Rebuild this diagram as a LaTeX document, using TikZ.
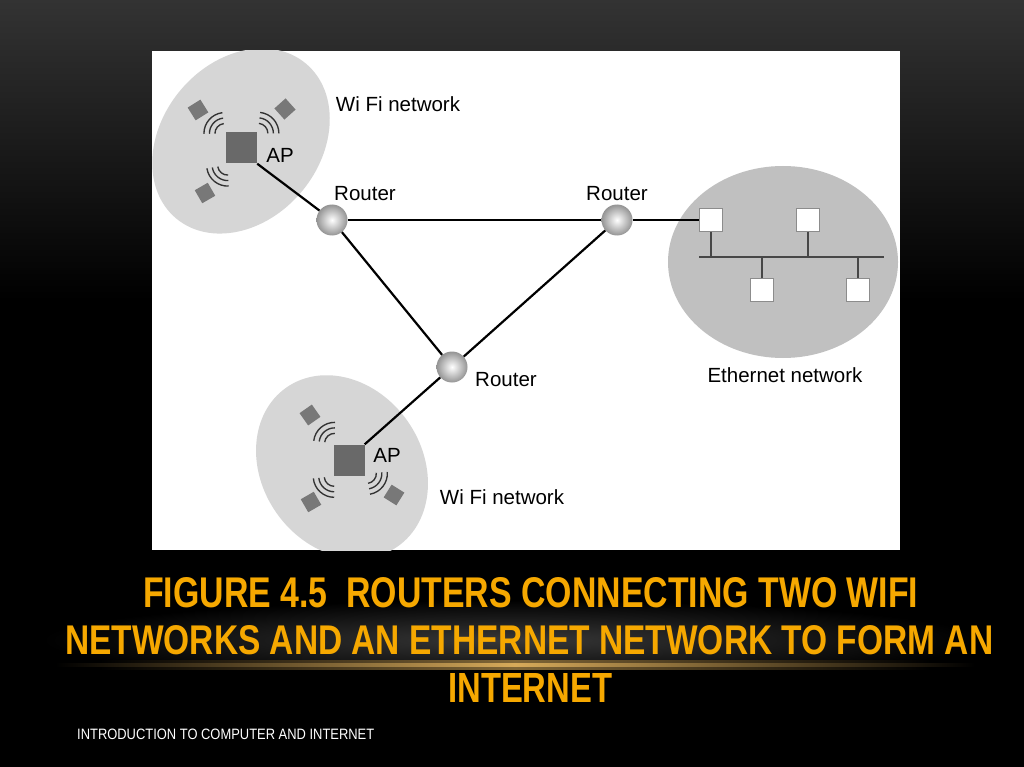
\documentclass[tikz,border=0pt]{standalone}
\usepackage{fontspec}
\setmainfont{Liberation Sans}
\usetikzlibrary{calc,shapes.geometric}
\definecolor{titleorange}{RGB}{246,168,0}
\definecolor{wifigray}{RGB}{214,214,214}
\definecolor{ethgray}{RGB}{192,192,192}
\definecolor{apgray}{RGB}{105,105,105}
\definecolor{devgray}{RGB}{120,120,120}
\definecolor{glowgold}{RGB}{215,170,90}
\newcommand\mywaves[2]{%
  \draw[wave] let \p1=($(#2)-(#1)$), \n1={atan2(\y1,\x1)}, \p2=($(#1)!22pt!(#2)$) in
    ($(\p2)+(\n1-42:10pt)$) arc[start angle=\n1-42,end angle=\n1+42,radius=10pt]
    ($(\p2)+(\n1-42:15.5pt)$) arc[start angle=\n1-42,end angle=\n1+42,radius=15.5pt]
    ($(\p2)+(\n1-42:21pt)$) arc[start angle=\n1-42,end angle=\n1+42,radius=21pt];}
\begin{document}
\begin{tikzpicture}[x=1pt,y=1pt,
  lbl/.style={inner sep=0pt,font=\fontsize{20.5}{22}\selectfont},
  apbox/.style={rectangle,fill=apgray,minimum size=31pt,inner sep=0pt},
  device/.style={rectangle,fill=devgray,minimum size=15pt,inner sep=0pt},
  router/.style={circle,minimum size=31pt,inner sep=0pt,inner color=white,outer color=black!42},
  ethbox/.style={rectangle,fill=white,draw=black!45,line width=0.6pt,minimum size=23pt,inner sep=0pt},
  link/.style={line width=2.2pt,black},
  bus/.style={line width=2.8pt,black!72},
  wave/.style={line width=1.35pt,black!80},
  titletext/.style={inner sep=0pt,text=titleorange,font=\bfseries},
  foottext/.style={inner sep=0pt,text=white}]
\useasboundingbox (0,0) rectangle (1024,-767);
% background
\fill[black] (0,0) rectangle (1024,-767);
\shade[top color=black!80, bottom color=black] (0,0) rectangle (1024,-300);
\shade[inner color=black!78, outer color=black] (512,-640) ellipse [x radius=470pt, y radius=40pt];
\fill[black] (0,-664) rectangle (1024,-767);
\shade[left color=black, right color=black, middle color=glowgold!60!black] (100,-660.5) rectangle (930,-669.5);
\shade[left color=black, right color=black, middle color=glowgold] (55,-663.5) rectangle (975,-666.5);
% white panel
\fill[white] (152,-51) rectangle (900,-550);
\begin{scope}
\clip (152,-51) rectangle (900,-550);
\fill[wifigray, rotate around={50:(241,-141)}] (241,-141) ellipse [x radius=101pt, y radius=79pt];
\fill[wifigray, rotate around={-55:(342,-467)}] (342,-467) ellipse [x radius=97pt, y radius=80pt];
\fill[ethgray] (783,-262) ellipse [x radius=115pt, y radius=96pt];
\end{scope}
% top wifi
\node[apbox] (ap1) at (241.5,-148) {};
\node[device,rotate=32] (d1) at (198,-110) {};
\node[device,rotate=42] (d2) at (285,-109) {};
\node[device,rotate=30] (d3) at (205,-193) {};
\mywaves{ap1}{d1}
\mywaves{ap1}{d2}
\mywaves{ap1}{d3}
\node[lbl] (ap1l) at (280,-155) {AP};
\node[lbl] (wifi1l) at (398,-104) {Wi Fi network};
% bottom wifi
\node[apbox] (ap2) at (349,-460) {};
\node[device,rotate=35] (d4) at (310,-415) {};
\node[device,rotate=30] (d5) at (311,-502) {};
\node[device,rotate=58] (d6) at (394,-495) {};
\mywaves{ap2}{d4}
\mywaves{ap2}{d5}
\mywaves{ap2}{d6}
\node[lbl] (ap2l) at (387,-455) {AP};
\node[lbl] (wifi2l) at (502,-497) {Wi Fi network};
% routers
\node[router] (r1) at (332,-220) {};
\node[router] (r2) at (617,-220) {};
\node[router] (r3) at (452,-367) {};
\node[lbl] (r1l) at (365,-194) {Router};
\node[lbl] (r2l) at (617,-194) {Router};
\node[lbl] (r3l) at (506,-380) {Router};
% ethernet
\node[ethbox] (e1) at (711,-220) {};
\node[ethbox] (e2) at (808,-220) {};
\node[ethbox] (e3) at (762,-290) {};
\node[ethbox] (e4) at (858,-290) {};
\coordinate (busL) at (699,-257);
\coordinate (busR) at (884,-257);
\draw[bus] (busL) -- (busR);
\draw[bus] (e1) -- (e1 |- busL);
\draw[bus] (e2) -- (e2 |- busL);
\draw[bus] (e3) -- (e3 |- busL);
\draw[bus] (e4) -- (e4 |- busL);
\node[lbl] (ethl) at (785,-375) {Ethernet network};
% links
\draw[link] (ap1.south east) -- (r1);
\draw[link] (r1) -- (r2);
\draw[link] (r1) -- (r3);
\draw[link] (r2) -- (r3);
\draw[link] (r2) -- (e1);
\draw[link] (ap2.north east) -- (r3);
% title
\node[titletext,anchor=north west] (t1) at (143,-577) {\resizebox{775pt}{30pt}{FIGURE 4.5\ \ ROUTERS CONNECTING TWO WIFI}};
\node[titletext,anchor=north west] (t2) at (65,-625) {\resizebox{928pt}{29pt}{NETWORKS AND AN ETHERNET NETWORK TO FORM AN}};
\node[titletext,anchor=north west] (t3) at (448,-673) {\resizebox{164pt}{29pt}{INTERNET}};
\node[foottext,anchor=north west] (foot) at (77,-729) {\resizebox{297pt}{10.5pt}{INTRODUCTION TO COMPUTER AND INTERNET}};
\end{tikzpicture}
\end{document}
